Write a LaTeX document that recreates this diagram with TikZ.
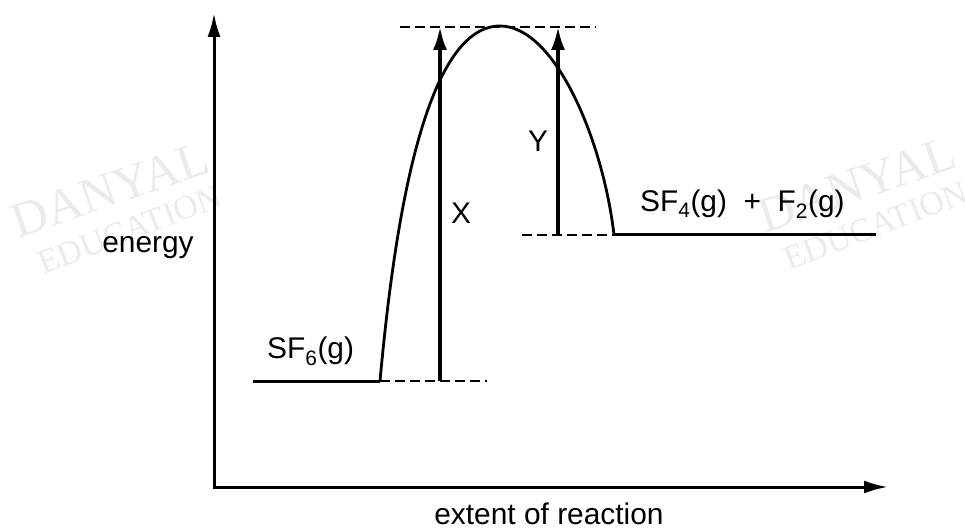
\documentclass[tikz,border=0pt]{standalone}
\usepackage{fontspec}
\setmainfont{Liberation Sans}
\newfontfamily\wmfont{Liberation Serif}
\usetikzlibrary{arrows.meta}
\tikzset{
  axisline/.style={line width=3bp, {Latex[length=24bp,width=13bp]}-{Latex[length=24bp,width=13bp]}},
  level/.style={line width=3bp},
  dashlevel/.style={line width=2.6bp, dash pattern=on 10bp off 5bp},
  curveline/.style={line width=2.8bp},
  energyarrow/.style={line width=3.2bp, -{Latex[length=23bp,width=14bp]}},
  lbl/.style={inner sep=0pt, font=\fontsize{30}{36}\selectfont},
  wmbig/.style={inner sep=0pt, text=black!8, font=\wmfont\fontsize{50}{60}\selectfont},
  wmsmall/.style={inner sep=0pt, text=black!8, font=\wmfont\fontsize{34}{40}\selectfont},
}
\begin{document}
\begin{tikzpicture}[x=1bp,y=-1bp]
\clip (0,0) rectangle (965,531);
\fill[white] (0,0) rectangle (965,531);
% watermarks
\node[wmbig, anchor=base, rotate=19] (wm1) at (115,205) {DANYAL};
\node[wmsmall, anchor=base, rotate=21] (wm2) at (134,240) {EDUCATION};
\node[wmbig, anchor=base, rotate=19] (wm3) at (862,200) {DANYAL};
\node[wmsmall, anchor=base, rotate=21] (wm4) at (880,236) {EDUCATION};
% axes
\coordinate (ytop) at (214,13);
\coordinate (xend) at (888,487);
\draw[axisline] (ytop) |- (xend);
% levels
\coordinate (r0) at (253,381);
\coordinate (r1) at (380,381);
\coordinate (r2) at (487,381);
\coordinate (p0) at (522,235);
\coordinate (p1) at (614,235);
\coordinate (p2) at (876,235);
\coordinate (t0) at (400,27);
\coordinate (t1) at (596,27);
\coordinate (peak) at (500,26);
\draw[level] (r0) -- (r1);
\draw[dashlevel] (r1) -- (r2);
\draw[dashlevel] (p0) -- (p1);
\draw[level] (p1) -- (p2);
\draw[dashlevel] (t0) -- (t1);
% curve
\draw[curveline] (r1) .. controls (392,250) and (420,26) .. (peak)
                      .. controls (555,26) and (603,140) .. (p1);
% arrows
\coordinate (xb) at (440,381);
\coordinate (xt) at (440,27);
\coordinate (yb) at (558,235);
\coordinate (yt) at (558,27);
\draw[energyarrow] (xb) -- (xt);
\draw[energyarrow] (yb) -- (yt);
% labels
\node[lbl] (X) at (461,213) {X};
\node[lbl] (Y) at (538,141) {Y};
\node[lbl, anchor=base] (en) at (148,253) {energy};
\node[lbl, anchor=base west] (sf6) at (267,359) {SF\textsubscript{6}(g)};
\node[lbl, anchor=base west] (prod) at (640,212) {SF\textsubscript{4}(g)~~+~~F\textsubscript{2}(g)};
\node[lbl, anchor=base] (ext) at (549,524) {extent of reaction};
\end{tikzpicture}
\end{document}
